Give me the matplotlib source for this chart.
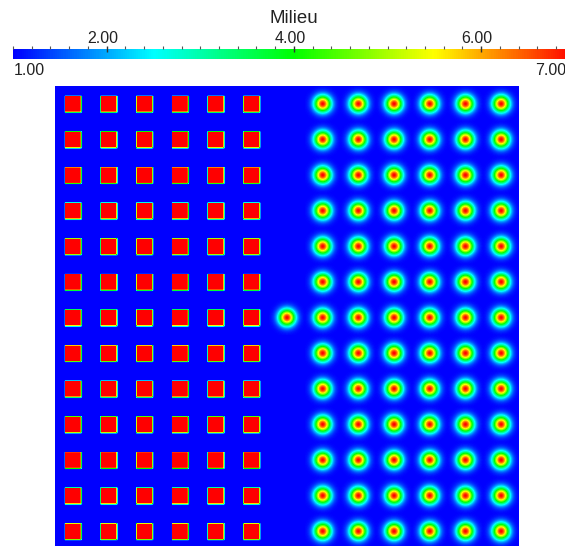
import colorsys

import matplotlib
matplotlib.use("Agg")
import matplotlib.pyplot as plt
import matplotlib.transforms as mtransforms
import numpy as np
from matplotlib.cm import ScalarMappable
from matplotlib.colors import ListedColormap, Normalize
from matplotlib.ticker import MultipleLocator

plt.rcParams["font.family"] = ["Liberation Sans", "DejaVu Sans"]

# scalar field "Milieu" on a 13 x 13 lattice of cells
field_name = "Milieu"
vmin, vmax = 1.0, 7.0
major_ticks = [2.0, 4.0, 6.0]
minor_step = 0.2

# S = square inclusion (value 7), G = gaussian bump (peak 7), . = background (value 1)
layout = [
    "SSSSSS.GGGGGG",
    "SSSSSS.GGGGGG",
    "SSSSSS.GGGGGG",
    "SSSSSS.GGGGGG",
    "SSSSSS.GGGGGG",
    "SSSSSS.GGGGGG",
    "SSSSSSGGGGGGG",
    "SSSSSS.GGGGGG",
    "SSSSSS.GGGGGG",
    "SSSSSS.GGGGGG",
    "SSSSSS.GGGGGG",
    "SSSSSS.GGGGGG",
    "SSSSSS.GGGGGG",
]
square_half = 0.215   # half side of a square, in cell units
edge_in = 0.017       # sharp ramp on left / top edge
edge_out = 0.05       # softer ramp on right / bottom edge
bump_sigma = 0.16     # width of a bump, in cell units
nodes_per_cell = 36

# blue -> red rainbow (hsv hue 240 -> 0)
hues = np.linspace(2.0 / 3.0, 0.0, 256)
cmap = ListedColormap([colorsys.hsv_to_rgb(h, 1.0, 1.0) for h in hues])

# nodal values of the field
n = len(layout)
kinds = np.array([list(r) for r in layout])
c = (np.arange(n * nodes_per_cell) + 0.5) / nodes_per_cell
X, Y = np.meshgrid(c, c)
col = np.floor(X).astype(int)
row = np.floor(Y).astype(int)
dx = X - col - 0.5
dy = Y - row - 0.5
kind = kinds[row, col]


def profile(d):
    lo = np.clip((d + square_half + edge_in) / edge_in, 0, 1)
    hi = np.clip((square_half + edge_out - d) / edge_out, 0, 1)
    return np.minimum(lo, hi)


field = np.full(X.shape, vmin)
square = vmin + (vmax - vmin) * profile(dx) * profile(dy)
field[kind == "S"] = square[kind == "S"]
bump = vmin + (vmax - vmin) * np.exp(-(dx ** 2 + dy ** 2) / (2 * bump_sigma ** 2))
field[kind == "G"] = bump[kind == "G"]

W, H = 565, 546
fig = plt.figure(figsize=(W / 100, H / 100), dpi=100)

ax = fig.add_axes([55 / W, (H - 548.6) / H, 463.3 / W, 462.6 / H])
ax.imshow(field, cmap=cmap, vmin=vmin, vmax=vmax, origin="upper",
          extent=[0, n, n, 0], interpolation="bilinear",
          interpolation_stage="data", aspect="auto")
ax.set_axis_off()

# colour bar on top
cax = fig.add_axes([13 / W, (H - 59.3) / H, 561.8 / W, 10 / H])
sm = ScalarMappable(norm=Normalize(vmin, vmax), cmap=cmap)
cb = fig.colorbar(sm, cax=cax, orientation="horizontal")
cb.outline.set_visible(False)
cb.set_ticks(major_ticks)
cax.xaxis.set_minor_locator(MultipleLocator(minor_step))
cax.xaxis.set_ticks_position("top")
cax.set_xticklabels([])
cax.tick_params(axis="x", which="major", direction="inout", length=4.3,
                width=1.0, color="#333333", labeltop=False, labelbottom=False)
cax.tick_params(axis="x", which="minor", direction="out", length=2.0,
                width=0.8, color="#555555")

txt = dict(color="#222222", fontsize=11.5)
tr = mtransforms.blended_transform_factory(cax.transData, cax.transAxes)
for v in major_ticks:
    cax.text(v, 1, f"{v:.2f}", ha="center", va="baseline",
             transform=mtransforms.offset_copy(tr, fig=fig, x=-4, y=6, units="dots"),
             **txt)
cax.text(vmin, 0, f"{vmin:.2f}", ha="left", va="top",
         transform=mtransforms.offset_copy(tr, fig=fig, x=1, y=-4, units="dots"),
         **txt)
cax.text(vmax, 0, f"{vmax:.2f}", ha="right", va="top",
         transform=mtransforms.offset_copy(tr, fig=fig, x=-9, y=-4, units="dots"),
         **txt)
cax.text(0.5, 1, field_name, ha="center", va="baseline", color="#222222",
         fontsize=13.4,
         transform=mtransforms.offset_copy(cax.transAxes, fig=fig, x=0, y=26, units="dots"))

fig.savefig("out.png", dpi=100)
